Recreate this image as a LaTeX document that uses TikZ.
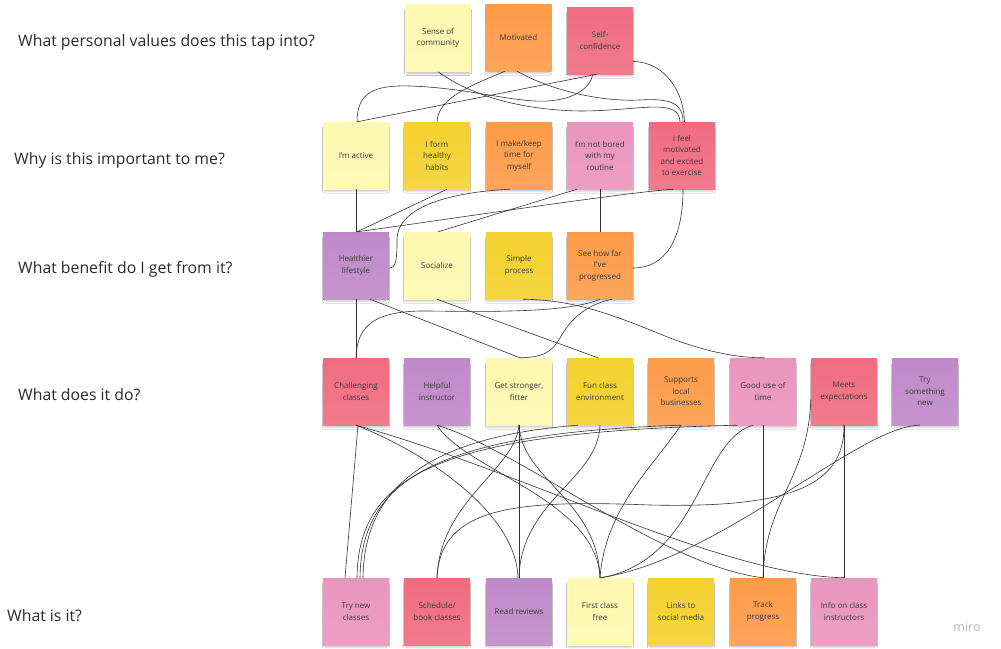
\documentclass[tikz,border=0pt]{standalone}
\usepackage{fontspec}
\setmainfont{Open Sans}
\usetikzlibrary{shadows.blur}
\definecolor{cLY}{HTML}{FEF8B0}
\definecolor{cY}{HTML}{F4D12E}
\definecolor{cO}{HTML}{FD9B48}
\definecolor{cR}{HTML}{F06C80}
\definecolor{cP}{HTML}{EA95BD}
\definecolor{cV}{HTML}{BF89C8}
\definecolor{ntext}{HTML}{3A3A3A}
\definecolor{ltext}{HTML}{2A2A2A}
\definecolor{wirec}{HTML}{333333}
\tikzset{
  note/.style={rectangle, minimum width=66pt, minimum height=67pt, inner sep=0pt,
    align=center, text=ntext, font=\fontsize{8}{11.5}\selectfont,
    top color=#1, bottom color=#1!90!white, draw=none,
    blur shadow={shadow xshift=0pt, shadow yshift=-4pt, shadow scale=0.94, shadow blur radius=2.5pt, shadow opacity=30}},
  lab/.style={anchor=west, text=ltext, font=\fontsize{15.8}{19}\selectfont, inner sep=0pt},
  wire/.style={draw=wirec, line width=0.6pt}
}
\begin{document}
\begin{tikzpicture}[x=1pt,y=-1pt]
\useasboundingbox (0,0) rectangle (1001,648);
\fill[white] (0,0) rectangle (1001,648);

% labels
\node[lab] (q1) at (18,42) {What personal values does this tap into?};
\node[lab] (q2) at (14,160) {Why is this important to me?};
\node[lab] (q3) at (18,269) {What benefit do I get from it?};
\node[lab] (q4) at (18,395) {What does it do?};
\node[lab] (q5) at (7,616) {What is it?};
\node[text=black!28, font=\fontsize{12.5}{14}\selectfont] (miro) at (967,627) {miro};

% row 1
\node[note=cLY] (sense) at (438,38) {Sense of\\community};
\node[note=cO] (mot) at (518.5,37.5) {Motivated};
\node[note=cR] (self) at (600,40.5) {Self-\\confidence};
% row 2
\node[note=cLY] (active) at (356,155.5) {I'm active};
\node[note=cY] (habits) at (437,155.5) {I form\\healthy\\habits};
\node[note=cO] (make) at (519,155.5) {I make/keep\\time for\\myself};
\node[note=cP] (bored) at (600,155.5) {I'm not bored\\with my\\routine};
\node[note=cR] (ifm) at (682,155.5) {I feel\\motivated\\and excited\\to exercise};
% row 3
\node[note=cV] (healthier) at (356,265.5) {Healthier\\lifestyle};
\node[note=cLY] (social) at (437,265.5) {Socialize};
\node[note=cY] (simple) at (519,265.5) {Simple\\process};
\node[note=cO] (see) at (600,265.5) {See how far\\I've\\progressed};
% row 4
\node[note=cR] (chal) at (356,391.5) {Challenging\\classes};
\node[note=cV] (helpful) at (437,391.5) {Helpful\\instructor};
\node[note=cLY] (getstr) at (519,391.5) {Get stronger,\\fitter};
\node[note=cY] (fun) at (600,391.5) {Fun class\\environment};
\node[note=cO] (supports) at (681,391.5) {Supports\\local\\businesses};
\node[note=cP] (gooduse) at (763,391.5) {Good use of\\time};
\node[note=cR] (meets) at (844,391.5) {Meets\\expectations};
\node[note=cV] (trysom) at (925,391.5) {Try\\something\\new};
% row 5
\node[note=cP] (trynew) at (356,611.5) {Try new\\classes};
\node[note=cR] (sched) at (437,611.5) {Schedule/\\book classes};
\node[note=cV] (readrev) at (519,611.5) {Read reviews};
\node[note=cLY] (first) at (600,611.5) {First class\\free};
\node[note=cY] (links) at (681,611.5) {Links to\\social media};
\node[note=cO] (track) at (763,611.5) {Track\\progress};
\node[note=cP] (info) at (844,611.5) {Info on class\\instructors};

\begin{scope}[every path/.style={wire}]
% row1 - row2
\draw (sense.south) .. controls (470,95) and (520,110) .. (580,111) .. controls (640,111) and (679,97) .. ([xshift=-2pt]ifm.north);
\draw ([xshift=-13.5pt]mot.south) .. controls (470,86) and (438,98) .. (habits.north);
\draw ([xshift=-1.5pt]mot.south) .. controls (550,90) and (600,102) .. (640,100) .. controls (672,98) and (683,104) .. ([xshift=1pt]ifm.north);
\draw ([xshift=-3pt]self.south) -- ([xshift=1pt]active.north);
\draw ([xshift=1pt]active.north) .. controls (357,92) and (375,85) .. (410,86) .. controls (470,88) and (515,103) .. (548,101) .. controls (575,99) and (590,88) .. ([xshift=-7pt]self.south);
\draw ([yshift=-21pt]self.east) .. controls (665,62) and (684,92) .. ([xshift=2.5pt]ifm.north);
% row2 - row3
\draw (active.south) -- (healthier.north);
\draw ([xshift=10pt]habits.south) -- ([xshift=1pt]healthier.north);
\draw ([xshift=-9pt]ifm.south) .. controls (620,193) and (430,222) .. ([xshift=1pt]healthier.north);
\draw ([xshift=-23pt]bored.south) -- ([xshift=1pt]social.north);
\draw (bored.south) -- (see.north);
\draw ([xshift=-9pt]make.south) .. controls (455,192) and (397,205) .. (397,240) .. controls (397,260) and (396,268) .. ([yshift=-2.5pt]healthier.east);
\draw ([xshift=1pt]ifm.south) .. controls (683,240) and (665,268) .. ([yshift=-2.5pt]see.east);
% row3 - row4
\draw (healthier.south) -- (chal.north);
\draw ([xshift=14pt]healthier.south) -- ([xshift=1pt]getstr.north);
\draw (social.south) -- ([xshift=-2pt]fun.north);
\draw ([xshift=4pt]simple.south) .. controls (580,300) and (620,318) .. (670,338) .. controls (710,353) and (740,358) .. ([xshift=2pt]gooduse.north);
\draw ([xshift=12pt]see.south) .. controls (585,305) and (570,320) .. (560,338) .. controls (550,355) and (540,357) .. ([xshift=1pt]getstr.north);
\draw (see.south) .. controls (570,312) and (500,312) .. (430,311) .. controls (375,310) and (357,325) .. (chal.north);
% row4 - row5
\draw ([xshift=2pt]chal.south) -- ([xshift=-11pt]trynew.north);
\draw (chal.south) .. controls (420,450) and (516,510) .. ([xshift=-1pt]readrev.north);
\draw (chal.south) .. controls (520,470) and (720,575) .. (info.north);
\draw (helpful.south) .. controls (520,450) and (660,565) .. (track.north);
\draw (helpful.south) .. controls (465,470) and (597,500) .. (first.north);
\draw (getstr.south) -- (readrev.north);
\draw (getstr.south) .. controls (515,470) and (440,500) .. (sched.north);
\draw (getstr.south) .. controls (522,480) and (598,500) .. (first.north);
\draw (fun.south) .. controls (598,480) and (521,500) .. (readrev.north);
\draw ([xshift=1pt]trynew.north) .. controls (358,470) and (450,432) .. ([xshift=-26pt]gooduse.south);
\draw ([xshift=4pt]trynew.north) .. controls (361,475) and (445,433) .. (supports.south);
\draw ([xshift=7pt]trynew.north) .. controls (364,480) and (440,436) .. ([xshift=-22pt]fun.south);
\draw (supports.south) .. controls (650,470) and (605,510) .. (first.north);
\draw ([xshift=-10pt]gooduse.south) .. controls (700,440) and (700,560) .. ([xshift=1pt]first.north);
\draw (gooduse.south) -- (track.north);
\draw ([yshift=-8pt]meets.west) .. controls (808,480) and (765,500) .. (track.north);
\draw (meets.south) -- (info.north);
\draw (meets.south) .. controls (845,490) and (780,508) .. (650,505) .. controls (520,500) and (440,505) .. (sched.north);
\draw ([xshift=-5pt]trysom.south) .. controls (860,425) and (720,560) .. (first.north);
\end{scope}
\end{tikzpicture}
\end{document}
